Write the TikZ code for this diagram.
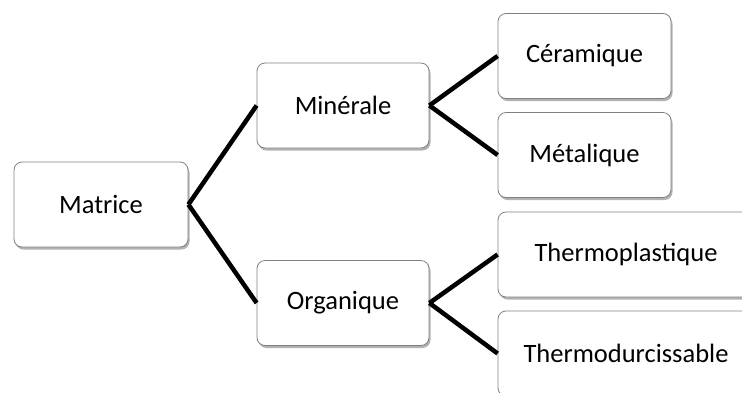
\documentclass[tikz,border=0pt]{standalone}
\usepackage{fontspec}
\setmainfont{Carlito}
\usetikzlibrary{shadows}
\begin{document}
\begin{tikzpicture}[x=1pt,y=-1pt,
  box/.style={draw=black!50, line width=0.8pt, fill=white, rounded corners=8pt,
    drop shadow={shadow xshift=1.5pt, shadow yshift=-2.5pt, fill=black, opacity=0.3},
    minimum height=85pt, inner sep=0pt, font=\fontsize{26.5}{31}\selectfont},
  link/.style={line width=4.5pt, black}]
\useasboundingbox (0,0) rectangle (742,392);
\clip (0,0) rectangle (742,392);
\node[box, minimum width=174pt] (mat) at (101,204.5) {Matrice};
\node[box, minimum width=172pt] (min) at (343,105.5) {Minérale};
\node[box, minimum width=172pt] (org) at (343,303) {Organique};
\node[box, minimum width=173pt] (cer) at (584.5,56) {Céramique};
\node[box, minimum width=173pt] (met) at (584.5,155) {Métalique};
\node[box, minimum width=256pt] (tpl) at (626,254.5) {Thermoplastique};
\node[box, minimum width=256pt] (tdu) at (626,353.5) {Thermodurcissable};
\draw[link] (mat.east) -- (min.west);
\draw[link] (mat.east) -- (org.west);
\draw[link] (min.east) -- (cer.west);
\draw[link] (min.east) -- (met.west);
\draw[link] (org.east) -- (tpl.west);
\draw[link] (org.east) -- (tdu.west);
\end{tikzpicture}
\end{document}
